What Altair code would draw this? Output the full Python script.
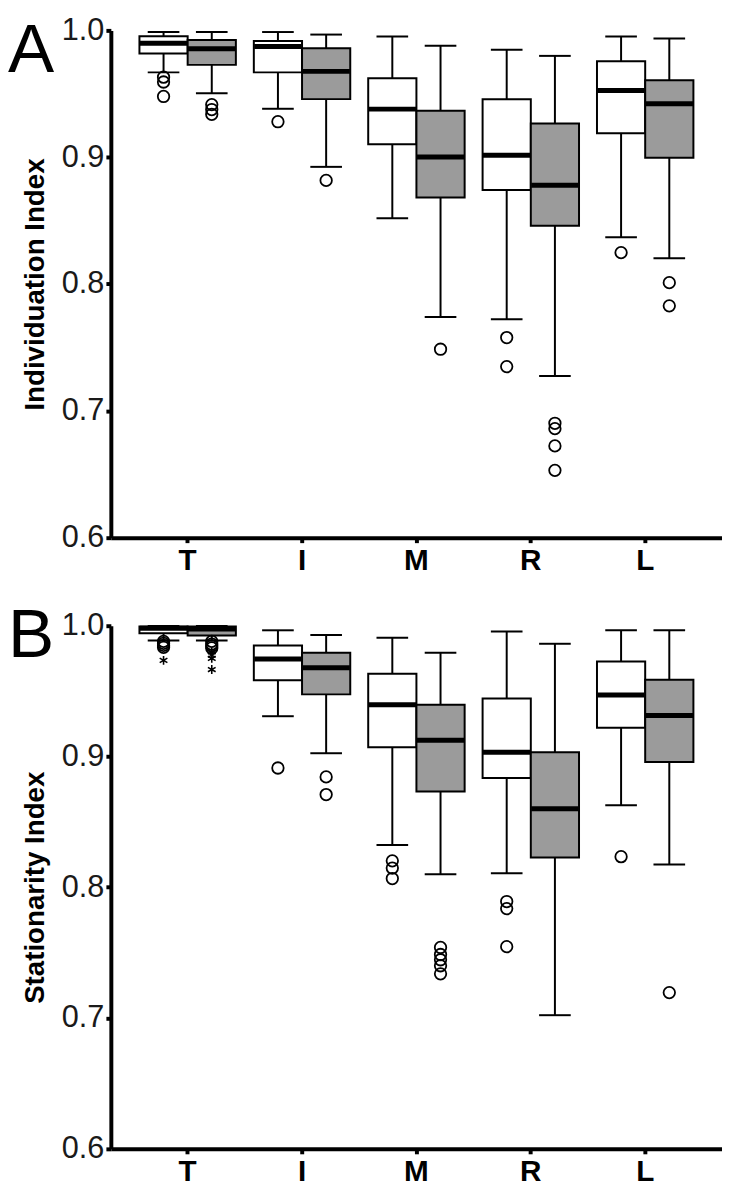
import altair as alt
import pandas as pd

CATS = ["T", "I", "M", "R", "L"]
GROUPS = ["open", "filled"]
GROUP_FILLS = ["white", "#9b9b9b"]

# order of every list: T-open, T-filled, I-open, I-filled, M-open, M-filled, R-open, R-filled, L-open, L-filled
A_HI = [0.9987, 0.9987, 0.9987, 0.9967, 0.9952, 0.9878, 0.9847, 0.9799, 0.9952, 0.9936]
A_Q3 = [0.9954, 0.9924, 0.9916, 0.9860, 0.9623, 0.9366, 0.9457, 0.9266, 0.9757, 0.9607]
A_MED = [0.9898, 0.9855, 0.9873, 0.9677, 0.9379, 0.9002, 0.9016, 0.8779, 0.9526, 0.9421]
A_Q1 = [0.9817, 0.9728, 0.9669, 0.9458, 0.9102, 0.8682, 0.8742, 0.8459, 0.9189, 0.8995]
A_LO = [0.9669, 0.9504, 0.9382, 0.8924, 0.8519, 0.7740, 0.7722, 0.7275, 0.8369, 0.8204]
A_OUT = [[0.9631, 0.9593, 0.9479], [0.9415, 0.9376, 0.9338], [0.9280], [0.8817], [],
         [0.7486], [0.7578, 0.7349], [0.6902, 0.6860, 0.6724, 0.6531], [0.8248], [0.8011, 0.7828]]
A_EXT = [[], [], [], [], [], [], [], [], [], []]

B_HI = [0.9998, 0.9998, 0.9965, 0.9929, 0.9908, 0.9794, 0.9956, 0.9862, 0.9965, 0.9965]
B_Q3 = [0.9995, 0.9995, 0.9848, 0.9794, 0.9632, 0.9395, 0.9443, 0.9033, 0.9726, 0.9587]
B_MED = [0.9980, 0.9975, 0.9745, 0.9678, 0.9395, 0.9125, 0.9033, 0.8601, 0.9470, 0.9314]
B_Q1 = [0.9943, 0.9925, 0.9583, 0.9475, 0.9071, 0.8733, 0.8836, 0.8228, 0.9219, 0.8958]
B_LO = [0.9887, 0.9887, 0.9308, 0.9025, 0.8323, 0.8099, 0.8107, 0.7022, 0.8628, 0.8175]
B_OUT = [[0.9880, 0.9865, 0.9850, 0.9835], [0.9880, 0.9860, 0.9845, 0.9830], [0.8912], [0.8844, 0.8709],
         [0.8202, 0.8147, 0.8067], [0.7540, 0.7486, 0.7446, 0.7400, 0.7338], [0.7891, 0.7837, 0.7546],
         [], [0.8234], [0.7195]]
B_EXT = [[0.9735], [0.9800, 0.9775, 0.9750, 0.9665], [], [], [], [], [], [], [], []]

FONT = "Liberation Sans"
WIDTH = 618


def keys():
    return [(c, g) for c in CATS for g in GROUPS]


def panel(letter, title, hi, q3, med, q1, lo, out, ext, height, letter_y):
    stats = pd.DataFrame(
        [dict(cat=c, grp=g, hi=hi[i], q3=q3[i], med=med[i], q1=q1[i], lo=lo[i])
         for i, (c, g) in enumerate(keys())]
    )
    out_df = pd.DataFrame(
        [dict(cat=c, grp=g, v=v) for i, (c, g) in enumerate(keys()) for v in out[i]],
        columns=["cat", "grp", "v"],
    )
    ext_df = pd.DataFrame(
        [dict(cat=c, grp=g, v=v) for i, (c, g) in enumerate(keys()) for v in ext[i]],
        columns=["cat", "grp", "v"],
    )

    x = alt.X(
        "cat:N", sort=CATS,
        scale=alt.Scale(domain=CATS, paddingInner=0.157, paddingOuter=0.25),
        axis=alt.Axis(title=None, labelAngle=0, labelFontSize=30, labelFontWeight="bold",
                      labelFont=FONT, labelColor="black", tickSize=5, tickWidth=4,
                      tickColor="black", domainWidth=4, domainColor="black",
                      labelPadding=3, grid=False),
    )
    xo = alt.XOffset("grp:N", sort=GROUPS,
                     scale=alt.Scale(domain=GROUPS, paddingInner=0, paddingOuter=0))
    yscale = alt.Scale(domain=[0.6, 1.0], nice=False, zero=False)
    yaxis = alt.Axis(values=[0.6, 0.7, 0.8, 0.9, 1.0], format=".1f", labelFontSize=31,
                     labelFont=FONT, labelColor="#1a1a1a", tickSize=5, tickWidth=4,
                     tickColor="black", domainWidth=4, domainColor="black", grid=False,
                     labelPadding=2, title=title, titleFont=FONT, titleFontSize=28,
                     titleFontWeight="bold", titleColor="black", titlePadding=12)

    base = alt.Chart(stats)
    w_low = base.mark_rule(color="black", strokeWidth=2, opacity=1).encode(
        x=x, xOffset=xo, y=alt.Y("lo:Q", scale=yscale, axis=yaxis), y2="q1:Q")
    w_high = base.mark_rule(color="black", strokeWidth=2, opacity=1).encode(
        x=x, xOffset=xo, y=alt.Y("q3:Q", scale=yscale), y2="hi:Q")
    cap_lo = base.mark_tick(color="black", size=32, thickness=2, opacity=1).encode(
        x=x, xOffset=xo, y=alt.Y("lo:Q", scale=yscale))
    cap_hi = base.mark_tick(color="black", size=32, thickness=2, opacity=1).encode(
        x=x, xOffset=xo, y=alt.Y("hi:Q", scale=yscale))
    box = base.mark_bar(stroke="black", strokeWidth=2, opacity=1).encode(
        x=x, xOffset=xo, y=alt.Y("q1:Q", scale=yscale), y2="q3:Q",
        fill=alt.Fill("grp:N", scale=alt.Scale(domain=GROUPS, range=GROUP_FILLS), legend=None))
    median = base.mark_tick(color="black", size=48, thickness=5, opacity=1).encode(
        x=x, xOffset=xo, y=alt.Y("med:Q", scale=yscale))
    pts = alt.Chart(out_df).mark_point(shape="circle", filled=False, size=135, opacity=1,
                                       strokeWidth=1.8, color="black").encode(
        x=x, xOffset=xo, y=alt.Y("v:Q", scale=yscale))
    stars = alt.Chart(ext_df).mark_point(
        shape="M0,-1L0,1M-0.87,-0.5L0.87,0.5M-0.87,0.5L0.87,-0.5", opacity=1,
        filled=False, size=80, strokeWidth=1.6, color="black").encode(
        x=x, xOffset=xo, y=alt.Y("v:Q", scale=yscale))
    lab = alt.Chart(pd.DataFrame({"t": [letter]})).mark_text(
        fontSize=70, font=FONT, align="left", baseline="alphabetic", color="black").encode(
        text="t:N", x=alt.value(-104), y=alt.value(letter_y))

    return alt.layer(w_low, w_high, cap_lo, cap_hi, box, median, pts, stars, lab).properties(
        width=WIDTH, height=height)


pa = panel("A", "Individuation Index", A_HI, A_Q3, A_MED, A_Q1, A_LO, A_OUT, A_EXT, 513, 42)
pb = panel("B", "Stationarity Index", B_HI, B_Q3, B_MED, B_Q1, B_LO, B_OUT, B_EXT, 529, 32)

chart = alt.vconcat(pa, pb, spacing=27).properties(
    padding={"left": 0, "top": 0, "right": 0, "bottom": 0}
).configure(font=FONT, background="white").configure_view(stroke=None)

chart.save("out.html", embed_options={"renderer": "svg", "actions": False})
